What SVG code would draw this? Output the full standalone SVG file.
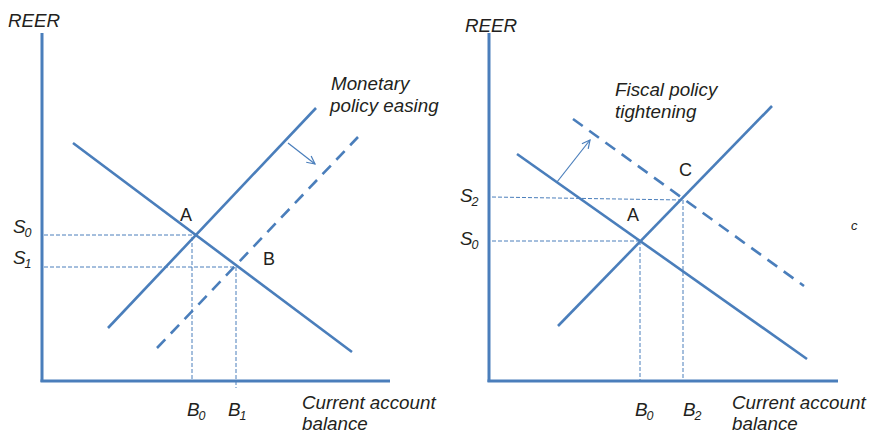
<svg xmlns="http://www.w3.org/2000/svg" width="871" height="434" viewBox="0 0 871 434">
<style>
.ax{stroke:#4a7ebb;stroke-width:3;fill:none}
.ln{stroke:#4a7ebb;stroke-width:2.6;fill:none;stroke-linecap:butt}
.dl{stroke:#4a7ebb;stroke-width:2.6;fill:none;stroke-dasharray:12 8}
.gd{stroke:#4a7ebb;stroke-width:1;fill:none;stroke-dasharray:4 2}
.ar{stroke:#4a7ebb;stroke-width:1.2;fill:none}
.t{font-family:"Liberation Sans",Arial,sans-serif;font-size:18.8px;fill:#231f20;font-style:italic}
.p{font-family:"Liberation Sans",Arial,sans-serif;font-size:18px;fill:#231f20}
.sub{font-size:12.5px}
</style>
<defs>
<marker id="ah" viewBox="0 0 10 10" refX="9" refY="5" markerWidth="10" markerHeight="10" markerUnits="userSpaceOnUse" orient="auto">
<polyline points="1,1 9,5 1,9" fill="none" stroke="#4a7ebb" stroke-width="1.2"/>
</marker>
</defs>
<g id="left-panel">
<g id="left-axes">
<line class="ax" x1="42" y1="33" x2="42" y2="382"/>
<line class="ax" x1="40.5" y1="381" x2="390" y2="381"/>
<text class="t" x="8" y="27">REER</text>
<text class="t" x="302" y="409">Current account</text>
<text class="t" x="302" y="430">balance</text>
</g>
<g id="connectors-left">
<line class="ln" x1="73" y1="143" x2="352" y2="352"/>
<line class="ln" x1="108" y1="328" x2="316" y2="108"/>
<line class="dl" x1="157" y1="348" x2="358" y2="137"/>
<line class="ar" x1="288" y1="143" x2="315" y2="164" marker-end="url(#ah)"/>
<line class="gd" x1="44" y1="235" x2="195" y2="235"/>
<line class="gd" x1="192" y1="237" x2="192" y2="381"/>
<line class="gd" x1="44" y1="267" x2="236" y2="267"/>
<line class="gd" x1="236" y1="267" x2="236" y2="388"/>
</g>
<g id="node-A-left"><text class="p" x="180" y="221">A</text></g>
<g id="node-B-left"><text class="p" x="263" y="265">B</text></g>
<g id="label-mon"><text class="t" x="331" y="90">Monetary</text><text class="t" x="330" y="112">policy easing</text></g>
<g id="labels-left-axis">
<text class="t" x="13" y="233">S<tspan class="sub" dx="-1" dy="4">0</tspan></text>
<text class="t" x="13" y="264">S<tspan class="sub" dx="-1" dy="4">1</tspan></text>
<text class="t" x="187" y="416">B<tspan class="sub" dx="-1" dy="4">0</tspan></text>
<text class="t" x="228" y="416">B<tspan class="sub" dx="-1" dy="4">1</tspan></text>
</g>
</g>
<g id="right-panel">
<g id="right-axes">
<line class="ax" x1="489" y1="33" x2="489" y2="382"/>
<line class="ax" x1="487.5" y1="381" x2="838" y2="381"/>
<text class="t" x="465" y="32">REER</text>
<text class="t" x="732" y="409">Current account</text>
<text class="t" x="732" y="430">balance</text>
</g>
<g id="connectors-right">
<line class="ln" x1="517" y1="154" x2="807" y2="359"/>
<line class="ln" x1="558" y1="326" x2="772" y2="106"/>
<line class="dl" x1="573" y1="119" x2="804" y2="286" stroke-dasharray="1 8 12 8 12 8 12 8 12 8 12 8 12 8 12 8 12 8 12 8 12 8 12 8 12 8 12 8 12 8 12 8 12 8"/>
<line class="ar" x1="557" y1="182" x2="590" y2="140" marker-end="url(#ah)"/>
<line class="gd" x1="492" y1="197" x2="682" y2="200"/>
<line class="gd" x1="683" y1="200" x2="683" y2="381"/>
<line class="gd" x1="492" y1="241" x2="640" y2="241"/>
<line class="gd" x1="640" y1="241" x2="640" y2="381"/>
</g>
<g id="node-A-right"><text class="p" x="627" y="221">A</text></g>
<g id="node-C-right"><text class="p" x="679" y="176">C</text></g>
<g id="label-fis"><text class="t" x="615" y="96">Fiscal policy</text><text class="t" x="615" y="118">tightening</text></g>
<g id="label-c"><text class="t" x="851" y="230" style="font-size:13px">c</text></g>
<g id="labels-right-axis">
<text class="t" x="460" y="202">S<tspan class="sub" dx="-1" dy="4">2</tspan></text>
<text class="t" x="460" y="245">S<tspan class="sub" dx="-1" dy="4">0</tspan></text>
<text class="t" x="635" y="416">B<tspan class="sub" dx="-1" dy="4">0</tspan></text>
<text class="t" x="683" y="416">B<tspan class="sub" dx="-1" dy="4">2</tspan></text>
</g>
</g>
</svg>
